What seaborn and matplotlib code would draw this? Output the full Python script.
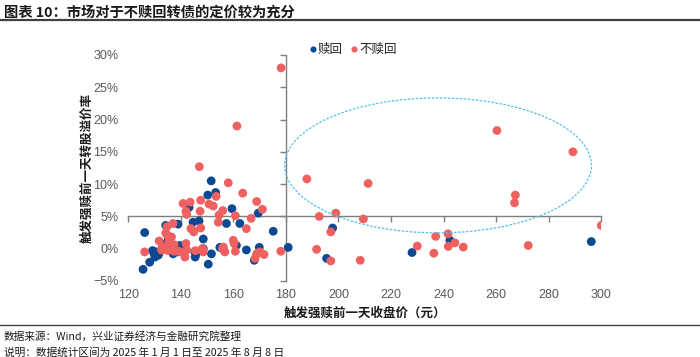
import matplotlib
matplotlib.use("Agg")
import matplotlib.pyplot as plt
import seaborn as sns
import pandas as pd
from matplotlib.patches import Ellipse
from matplotlib.lines import Line2D
from matplotlib.ticker import PercentFormatter

# 赎回: price before trigger (yuan), conversion premium (%)
redeem_x = [126.3, 125.7, 128.2, 129.3, 129.9, 130.8, 130.2, 132.0, 131.5, 133.0,
            134.3, 134.6, 135.2, 135.9, 136.0, 136.5, 137.1, 137.8, 139.0, 139.0,
            139.7, 140.3, 143.2, 144.7, 145.4, 145.5, 145.9, 147.0, 148.6, 148.6,
            150.3, 150.5, 151.7, 151.6, 153.3, 154.9, 156.2, 157.4, 159.5, 161.2,
            162.5, 165.0, 168.0, 169.5, 169.9, 175.2, 180.9, 197.8, 195.5, 228.0,
            242.4, 296.2]
redeem_y = [2.5, -3.2, -2.1, -0.3, -0.8, -0.5, -1.3, -0.5, -1.0, 0.2,
            3.6, 0.8, 1.3, 0.0, -0.3, 0.5, -0.8, -0.5, 3.8, -0.5,
            0.5, 0.0, 6.4, 4.1, -0.5, -1.3, -0.8, 4.3, 1.5, 0.0,
            8.3, -2.4, -0.8, 10.5, 8.7, 0.2, 0.0, 3.9, 6.2, 0.5,
            3.9, -0.2, -1.8, 5.5, 0.2, 2.7, 0.2, 3.2, -1.5, -0.6,
            1.3, 1.1]

# 不赎回
noredeem_x = [126.3, 131.8, 132.7, 133.1, 133.9, 134.3, 134.8, 134.9, 135.2, 135.5,
              136.5, 137.1, 137.5, 137.5, 139.0, 139.5, 140.9, 141.6, 142.0, 142.0,
              142.3, 142.3, 143.6, 143.9, 144.7, 145.0, 145.6, 147.4, 147.6, 147.6,
              148.2, 148.4, 148.6, 150.8, 152.4, 153.5, 154.3, 154.6, 155.9, 156.0,
              156.2, 156.8, 160.0, 160.3, 160.8, 160.8, 163.6, 165.0, 166.8, 168.3,
              168.9, 168.9, 170.1, 171.1, 171.7, 178.1, 147.1, 158.1, 161.4, 178.2,
              188.0, 211.3, 192.7, 199.0, 209.5, 197.1, 191.7, 197.1, 208.3, 230.0,
              236.3, 237.0, 241.7, 241.8, 244.3, 247.5, 267.3, 267.0, 272.2, 300.0,
              260.3, 289.2]
noredeem_y = [-0.5, 1.2, -0.2, 0.3, -0.1, 2.4, 3.4, 2.1, -0.3, 1.0,
              1.8, 3.9, -0.4, 0.6, -0.4, -0.4, 7.0, -1.3, 0.8, 5.8,
              5.3, -0.2, 7.2, 3.1, 2.8, 2.6, -0.3, 5.8, 7.5, 3.2,
              0.0, -0.1, -0.5, 6.9, 6.6, 8.1, 4.1, 5.2, 0.0, 5.9,
              0.25, -0.5, 1.3, 0.8, 5.1, -0.4, 8.6, 3.1, 4.7, -1.5,
              7.3, -0.8, -0.5, 6.1, -0.9, -0.4, 12.7, 10.2, 19.0, 28.0,
              10.8, 10.1, 5.0, 5.5, 4.6, 2.6, -0.1, -1.9, -1.8, 0.4,
              -0.7, 1.9, 2.3, 0.35, 0.9, 0.25, 8.3, 7.1, 0.5, 3.6,
              18.3, 15.0]

x_ticks = [120, 140, 160, 180, 200, 220, 240, 260, 280, 300]
y_ticks = [-5, 0, 5, 10, 15, 20, 25, 30]

df = pd.concat([
    pd.DataFrame({"price": redeem_x, "premium": redeem_y, "group": "赎回"}),
    pd.DataFrame({"price": noredeem_x, "premium": noredeem_y, "group": "不赎回"}),
])

sns.set_theme(style="white")
plt.rcParams["font.family"] = ["Noto Sans CJK SC", "DejaVu Sans"]
plt.rcParams["axes.unicode_minus"] = True

blue = "#0B4A93"
red = "#EF6161"
grey = "#7F7F7F"
tick_font = ["Liberation Sans", "Noto Sans CJK SC"]

fig = plt.figure(figsize=(7, 3.57), dpi=100)
ax = fig.add_axes([0.183, 0.213, 0.676, 0.633])

sns.scatterplot(data=df, x="price", y="premium", hue="group",
                palette={"赎回": blue, "不赎回": red}, s=40, linewidth=0,
                ax=ax, zorder=3)

ax.set_xlim(120, 300)
ax.set_ylim(-5, 30)
ax.set_xticks(x_ticks)
ax.set_yticks(y_ticks)
ax.set_xlabel("")
ax.set_ylabel("")

# axes cross at x=180 and y=5%
for side in ["top", "right"]:
    ax.spines[side].set_visible(False)
ax.spines["left"].set_position(("data", 180))
ax.spines["bottom"].set_position(("data", 5))
for side in ["left", "bottom"]:
    ax.spines[side].set_color(grey)
    ax.spines[side].set_linewidth(1.0)
    ax.spines[side].set_zorder(2)
ax.tick_params(axis="both", direction="out", length=4, width=1, color=grey,
               labelleft=False, labelbottom=False)
ax.tick_params(axis="x", bottom=True)
ax.tick_params(axis="y", left=True)
ax.patch.set_visible(False)

ell = Ellipse((237.9, 12.9), 116.7, 20.9, fill=False, edgecolor="#4FC3EE",
              linewidth=0.9, linestyle=(0, (2, 1.2)), zorder=4, clip_on=False)
ax.add_patch(ell)

handles, labels = ax.get_legend_handles_labels()
ax.legend(handles, labels, loc="upper center", bbox_to_anchor=(0.47, 1.075),
          ncol=2, frameon=False, handletextpad=-0.3, columnspacing=0.2,
          handlelength=1.4, fontsize=9, markerscale=0.7, borderaxespad=0)

# overlay axes carrying tick labels at the frame edges
lab = fig.add_axes(ax.get_position(), frameon=False)
lab.set_xlim(120, 300)
lab.set_ylim(-5, 30)
lab.set_xticks(x_ticks)
lab.set_yticks(y_ticks)
lab.yaxis.set_major_formatter(PercentFormatter(decimals=0))
lab.tick_params(axis="both", length=0, labelsize=9, labelcolor="#595959")
lab.tick_params(axis="y", pad=7)
lab.tick_params(axis="x", pad=6)
for t in lab.get_xticklabels() + lab.get_yticklabels():
    t.set_family(tick_font)
lab.set_xlabel("触发强赎前一天收盘价（元）", fontsize=9, fontweight="bold",
               color="#1a1a1a", labelpad=4)
lab.set_ylabel("触发强赎前一天转股溢价率", fontsize=9, fontweight="bold",
               color="#1a1a1a", labelpad=0)
lab.patch.set_visible(False)

fig.text(0.005, 0.965, "图表 10：市场对于不赎回转债的定价较为充分", fontsize=10.3,
         fontweight="bold", color="#1a1a1a", va="center", ha="left")
fig.add_artist(Line2D([0, 1], [0.943, 0.943], transform=fig.transFigure,
                      color="#404040", linewidth=1.6))
fig.add_artist(Line2D([0, 1], [0.09, 0.09], transform=fig.transFigure,
                      color="#404040", linewidth=1.0))
fig.text(0.005, 0.058, "数据来源：Wind，兴业证券经济与金融研究院整理", fontsize=7.7,
         color="#1a1a1a", va="center", ha="left")
fig.text(0.005, 0.014, "说明：数据统计区间为 2025 年 1 月 1 日至 2025 年 8 月 8 日", fontsize=7.7,
         color="#1a1a1a", va="center", ha="left")

fig.savefig("out.png", dpi=100)
